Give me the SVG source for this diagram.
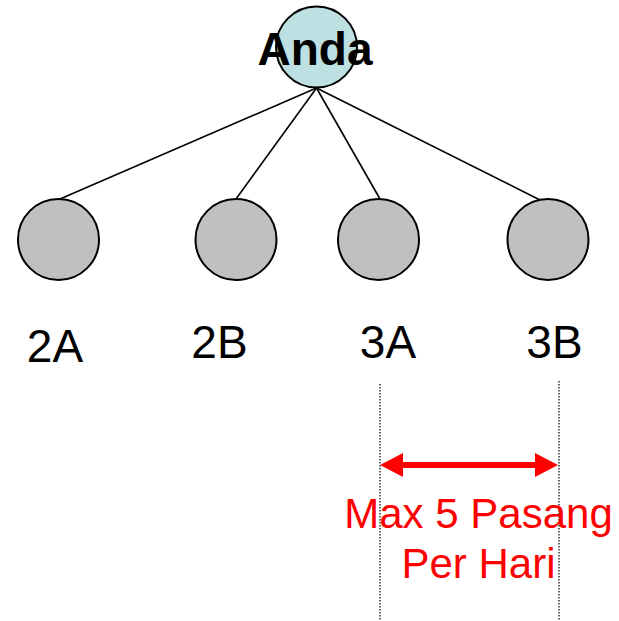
<svg xmlns="http://www.w3.org/2000/svg" width="619" height="621" viewBox="0 0 619 621">
<style>
.node{fill:#c0c0c0;stroke:#000;stroke-width:2}
.lbl{font-family:"Liberation Sans",Arial,sans-serif;font-size:46px;fill:#000;text-anchor:middle}
.conn{stroke:#000;stroke-width:1.6;fill:none}
.guide{stroke:#000;stroke-width:1.2;stroke-dasharray:1.5,1.5;fill:none}
.red{font-family:"Liberation Sans",Arial,sans-serif;font-size:42px;fill:#ff0000;text-anchor:middle}
</style>
<rect width="619" height="621" fill="#fff"/>
<g id="connectors">
<line class="conn" x1="316.5" y1="88" x2="60" y2="199"/>
<line class="conn" x1="316.5" y1="88" x2="236" y2="199"/>
<line class="conn" x1="316.5" y1="88" x2="380" y2="199"/>
<line class="conn" x1="316.5" y1="88" x2="540" y2="200"/>
</g>
<g id="anda">
<circle cx="316.5" cy="47" r="40.5" fill="#bde0e3" stroke="#000" stroke-width="2"/>
<text x="315" y="65" font-family="'Liberation Sans',Arial,sans-serif" font-size="46" font-weight="bold" text-anchor="middle">Anda</text>
</g>
<g id="n2A">
<circle class="node" cx="58.5" cy="239.5" r="40.5"/>
<text class="lbl" x="55" y="362">2A</text>
</g>
<g id="n2B">
<circle class="node" cx="236" cy="239.5" r="40.5"/>
<text class="lbl" x="219.5" y="358">2B</text>
</g>
<g id="n3A">
<circle class="node" cx="378.5" cy="239.5" r="40.5"/>
<text class="lbl" x="388" y="358">3A</text>
</g>
<g id="n3B">
<circle class="node" cx="548" cy="239.5" r="40.5"/>
<text class="lbl" x="554.5" y="358">3B</text>
</g>
<g id="limit">
<line class="guide" x1="380" y1="384" x2="380" y2="621"/>
<line class="guide" x1="559" y1="381" x2="559" y2="621"/>
<line x1="398" y1="465" x2="540" y2="465" stroke="#ff0000" stroke-width="6"/>
<polygon points="380,465 403,453 403,477" fill="#ff0000"/>
<polygon points="558,465 535,453 535,477" fill="#ff0000"/>
<text class="red" x="478.5" y="528">Max 5 Pasang</text>
<text class="red" x="478.5" y="578">Per Hari</text>
</g>
</svg>
